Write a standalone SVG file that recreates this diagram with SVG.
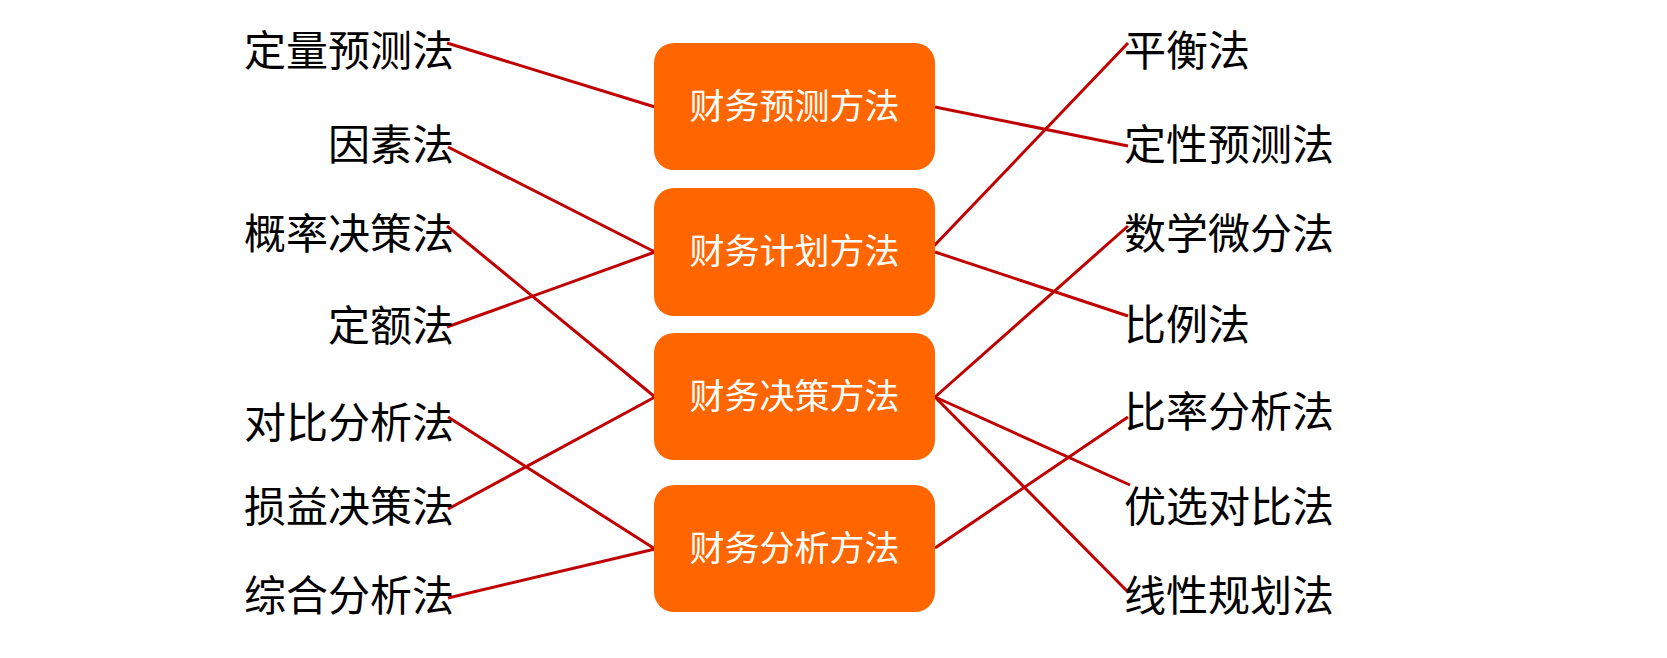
<svg xmlns="http://www.w3.org/2000/svg" width="1667" height="658" viewBox="0 0 1667 658">
<style>
.box{fill:#FF6600}
.bt{fill:#FFFFFF;font-family:"Noto Sans CJK SC","Microsoft YaHei",sans-serif;font-size:35px;text-anchor:middle}
.lt{fill:#000000;font-family:"Noto Sans CJK SC","Microsoft YaHei",sans-serif;font-size:42px;text-anchor:end}
.rt{fill:#000000;font-family:"Noto Sans CJK SC","Microsoft YaHei",sans-serif;font-size:42px;text-anchor:start}
.c line{stroke:#C00000;stroke-width:3;fill:none}
</style>
<rect width="1667" height="658" fill="#FFFFFF"/>
<g id="connectors" class="c">
<line x1="447" y1="43" x2="655" y2="107"/>
<line x1="448" y1="147" x2="655" y2="252"/>
<line x1="447" y1="226" x2="655" y2="397"/>
<line x1="447" y1="327" x2="655" y2="252"/>
<line x1="448" y1="417" x2="655" y2="549"/>
<line x1="448" y1="509" x2="655" y2="397"/>
<line x1="448" y1="598" x2="655" y2="549"/>
<line x1="935" y1="107" x2="1128" y2="146"/>
<line x1="932" y1="248" x2="1128" y2="43"/>
<line x1="935" y1="252" x2="1128" y2="316"/>
<line x1="935" y1="397" x2="1128" y2="226"/>
<line x1="935" y1="397" x2="1130" y2="485"/>
<line x1="935" y1="397" x2="1128" y2="592"/>
<line x1="935" y1="548" x2="1128" y2="417"/>
</g>
<g id="box1"><rect class="box" x="654" y="43" width="281" height="127" rx="20"/><text class="bt" x="794.5" y="119">财务预测方法</text></g>
<g id="box2"><rect class="box" x="654" y="188" width="281" height="128" rx="20"/><text class="bt" x="794.5" y="264">财务计划方法</text></g>
<g id="box3"><rect class="box" x="654" y="333" width="281" height="127" rx="20"/><text class="bt" x="794.5" y="409">财务决策方法</text></g>
<g id="box4"><rect class="box" x="654" y="485" width="281" height="127" rx="20"/><text class="bt" x="794.5" y="561">财务分析方法</text></g>
<g id="l1"><text class="lt" x="454" y="66">定量预测法</text></g>
<g id="l2"><text class="lt" x="454" y="160">因素法</text></g>
<g id="l3"><text class="lt" x="454" y="249">概率决策法</text></g>
<g id="l4"><text class="lt" x="454" y="341">定额法</text></g>
<g id="l5"><text class="lt" x="454" y="438">对比分析法</text></g>
<g id="l6"><text class="lt" x="454" y="522">损益决策法</text></g>
<g id="l7"><text class="lt" x="454" y="611">综合分析法</text></g>
<g id="r1"><text class="rt" x="1124" y="66">平衡法</text></g>
<g id="r2"><text class="rt" x="1124" y="160">定性预测法</text></g>
<g id="r3"><text class="rt" x="1124" y="249">数学微分法</text></g>
<g id="r4"><text class="rt" x="1124" y="340">比例法</text></g>
<g id="r5"><text class="rt" x="1124" y="427">比率分析法</text></g>
<g id="r6"><text class="rt" x="1124" y="522">优选对比法</text></g>
<g id="r7"><text class="rt" x="1124" y="611">线性规划法</text></g>
</svg>
